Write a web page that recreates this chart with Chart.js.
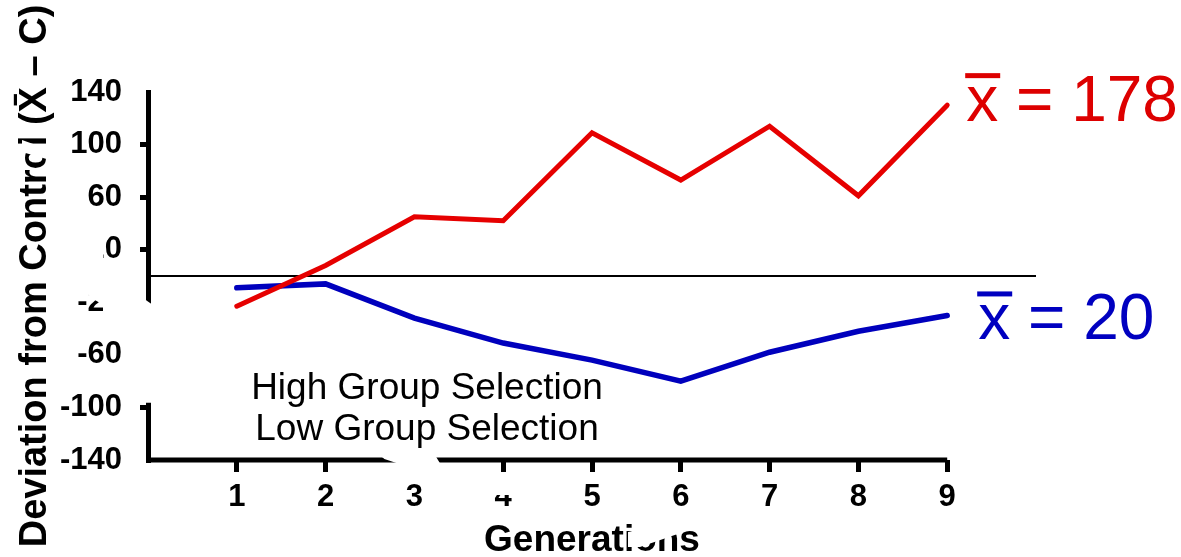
<!DOCTYPE html>
<html>
<head>
<meta charset="utf-8">
<script src="https://cdn.jsdelivr.net/npm/chart.js@4/dist/chart.umd.min.js"></script>
<style>
  html, body { margin: 0; padding: 0; background: #fff; }
  #wrap { width: 1181px; height: 557px; }
</style>
</head>
<body>
<div id="wrap"><canvas id="c" width="1181" height="557"></canvas></div>
<script>
// Generations on the x axis
const generations = [1, 2, 3, 4, 5, 6, 7, 8, 9];
// Deviation from control, per generation
const highSelection = [-23, 8, 45, 42, 109, 73, 114, 61, 130];
const lowSelection = [-9, -6, -32, -51, -64, -80, -58, -42, -30];
// Y tick labels
const yTicks = [-140, -100, -60, -20, 20, 60, 100, 140];
// Series names and their overall means
const seriesNames = ['High Group Selection', 'Low Group Selection'];
const seriesMeans = [178, 20];
// Control reference line (deviation 0) spans generations 0..10
const controlSpan = [0, 10];
const controlLevel = 0;

const FONT = "'Liberation Sans', Arial, Helvetica, sans-serif";
const RED = '#e60000';
const BLUE = '#0000bd';

const toPoints = vals => vals.map((v, i) => ({ x: generations[i], y: v }));

// Bottom axis line, running from generation 0 to the last generation
const axisPlugin = {
  id: 'bottomAxis',
  beforeDatasetsDraw(chart) {
    const { ctx, chartArea, scales } = chart;
    const x0 = scales.x.getPixelForValue(0);
    const x1 = scales.x.getPixelForValue(generations[generations.length - 1]);
    ctx.save();
    ctx.strokeStyle = '#000';
    ctx.lineWidth = 5;
    ctx.lineJoin = 'round';
    ctx.beginPath();
    ctx.moveTo(x0 - 2, chartArea.bottom);
    ctx.lineTo(x1, chartArea.bottom);
    ctx.stroke();
    ctx.restore();
  }
};

// Legend text and mean labels drawn on the canvas
const textPlugin = {
  id: 'seriesText',
  afterDatasetsDraw(chart) {
    const { ctx, chartArea } = chart;
    ctx.save();
    // legend names (black text, stacked)
    ctx.font = `37px ${FONT}`;
    ctx.fillStyle = '#000';
    ctx.textAlign = 'center';
    ctx.textBaseline = 'middle';
    const lx = chartArea.left + 279;
    ctx.fillText(seriesNames[0], lx, chartArea.bottom - 71);
    ctx.fillText(seriesNames[1], lx, chartArea.bottom - 30);

    // mean labels next to each series end: "x̄ = N"
    const specs = [
      { ds: 0, color: '#dd0000', dx: 19, dy: 16 },
      { ds: 1, color: '#0000c0', dx: 31, dy: 24 }
    ];
    ctx.font = `64px ${FONT}`;
    ctx.textAlign = 'left';
    ctx.textBaseline = 'alphabetic';
    specs.forEach(s => {
      const meta = chart.getDatasetMeta(s.ds);
      const last = meta.data[meta.data.length - 1];
      const x = last.x + s.dx;
      const y = last.y + s.dy;
      ctx.fillStyle = s.color;
      const head = 'x';
      ctx.fillText(head + ' = ' + seriesMeans[s.ds], x, y);
      const w = ctx.measureText(head).width;
      ctx.fillRect(x - 1, y - 48, w + 3, 5);
    });
    ctx.restore();
  }
};

// White strokes that break the axes and some labels
const breakPlugin = {
  id: 'axisBreaks',
  afterDraw(chart) {
    const { ctx, chartArea, scales } = chart;
    const y = scales.y, x = scales.x;
    const L = chartArea.left, B = chartArea.bottom;
    ctx.save();
    ctx.fillStyle = '#fff';
    // gap in the vertical axis
    const gTop = y.getPixelForValue(-18), gBot = y.getPixelForValue(-98);
    ctx.beginPath();
    ctx.moveTo(L - 14, gTop - 8);
    ctx.lineTo(L + 6, gTop + 6);
    ctx.lineTo(L + 6, gBot - 2);
    ctx.lineTo(L - 14, gBot - 2);
    ctx.closePath();
    ctx.fill();
    // partial "-20" label
    const p20n = y.getPixelForValue(-20);
    ctx.fillRect(L - 45, p20n - 16, 26, 32);
    ctx.beginPath();
    ctx.moveTo(L - 64, p20n - 16);
    ctx.lineTo(L - 44, p20n - 16);
    ctx.lineTo(L - 44, p20n + 3);
    ctx.lineTo(L - 58, p20n - 5);
    ctx.closePath();
    ctx.fill();
    // partial "20" label
    const p20 = y.getPixelForValue(20);
    ctx.fillRect(L - 82, p20 - 16, 37, 32);
    ctx.beginPath();
    ctx.moveTo(L - 46, p20 - 16);
    ctx.lineTo(L - 36, p20 - 16);
    ctx.lineTo(L - 46, p20 - 2);
    ctx.closePath();
    ctx.fill();
    // break in the horizontal axis near generation 3
    const g3 = x.getPixelForValue(3);
    ctx.beginPath();
    ctx.moveTo(g3 - 36, B - 6);
    ctx.lineTo(g3 + 20, B - 6);
    ctx.lineTo(g3 + 26, B + 4);
    ctx.lineTo(g3 + 6, B + 9);
    ctx.lineTo(g3 + 6, B + 22);
    ctx.lineTo(g3 - 6, B + 22);
    ctx.lineTo(g3 - 6, B + 7);
    ctx.lineTo(g3 - 30, B - 1);
    ctx.closePath();
    ctx.fill();
    // top of the "4" label
    const g4 = x.getPixelForValue(4);
    ctx.fillRect(g4 - 12, B + 24, 24, 11);
    // stroke across "Control" in the y title
    ctx.beginPath();
    ctx.moveTo(22, 140);
    ctx.lineTo(50, 150);
    ctx.lineTo(50, 160);
    ctx.lineTo(22, 152);
    ctx.closePath();
    ctx.fill();
    // stroke across "Generations"
    ctx.beginPath();
    ctx.moveTo(628, 532);
    ctx.lineTo(690, 520);
    ctx.lineTo(695, 528);
    ctx.lineTo(640, 547);
    ctx.lineTo(628, 547);
    ctx.closePath();
    ctx.fill();
    ctx.restore();
  }
};

new Chart(document.getElementById('c'), {
  type: 'line',
  data: {
    datasets: [
      {
        label: seriesNames[0],
        data: toPoints(highSelection),
        borderColor: RED,
        borderWidth: 5,
        pointRadius: 0,
        tension: 0,
        borderCapStyle: 'round'
      },
      {
        label: seriesNames[1],
        data: toPoints(lowSelection),
        borderColor: BLUE,
        borderWidth: 5.5,
        pointRadius: 0,
        tension: 0,
        borderCapStyle: 'round'
      },
      {
        label: 'Control',
        data: controlSpan.map(g => ({ x: g, y: controlLevel })),
        borderColor: '#000',
        borderWidth: 2,
        pointRadius: 0
      }
    ]
  },
  options: {
    responsive: false,
    devicePixelRatio: 1,
    animation: false,
    layout: { padding: { top: 92, right: 145, left: 0, bottom: 0 } },
    plugins: { legend: { display: false }, tooltip: { enabled: false } },
    scales: {
      x: {
        type: 'linear',
        min: 0,
        max: 10,
        afterBuildTicks: s => { s.ticks = generations.map(v => ({ value: v })); },
        afterFit: s => { s.height = 97; },
        border: { display: false },
        grid: { drawOnChartArea: false, drawTicks: true, tickLength: 12, lineWidth: 5, color: '#000' },
        ticks: { color: '#000', padding: 7, font: { family: FONT, size: 31, weight: 'bold' }, maxRotation: 0 },
        title: {
          display: true, text: 'Generations', color: '#000',
          font: { family: FONT, size: 37, weight: 'bold', lineHeight: 1 },
          padding: { top: 0, bottom: -2 }
        }
      },
      y: {
        type: 'linear',
        min: -140,
        max: 140,
        afterBuildTicks: s => { s.ticks = yTicks.map(v => ({ value: v })); },
        afterFit: s => { s.width = 148; },
        border: { display: true, color: '#000', width: 5 },
        grid: {
          drawOnChartArea: false, drawTicks: true, tickLength: 8, lineWidth: 5,
          color: c => (c.tick && (c.tick.value === 140 || c.tick.value === -140)) ? 'rgba(0,0,0,0)' : '#000'
        },
        ticks: { color: '#000', padding: 18, font: { family: FONT, size: 31, weight: 'bold' } },
        title: {
          display: true, text: 'Deviation from Control (X\u0304 \u2013 C)', color: '#000',
          font: { family: FONT, size: 38, weight: 'bold', lineHeight: 1 },
          padding: { top: 17, bottom: 0 }
        }
      }
    }
  },
  plugins: [axisPlugin, textPlugin, breakPlugin]
});
</script>
</body>
</html>
